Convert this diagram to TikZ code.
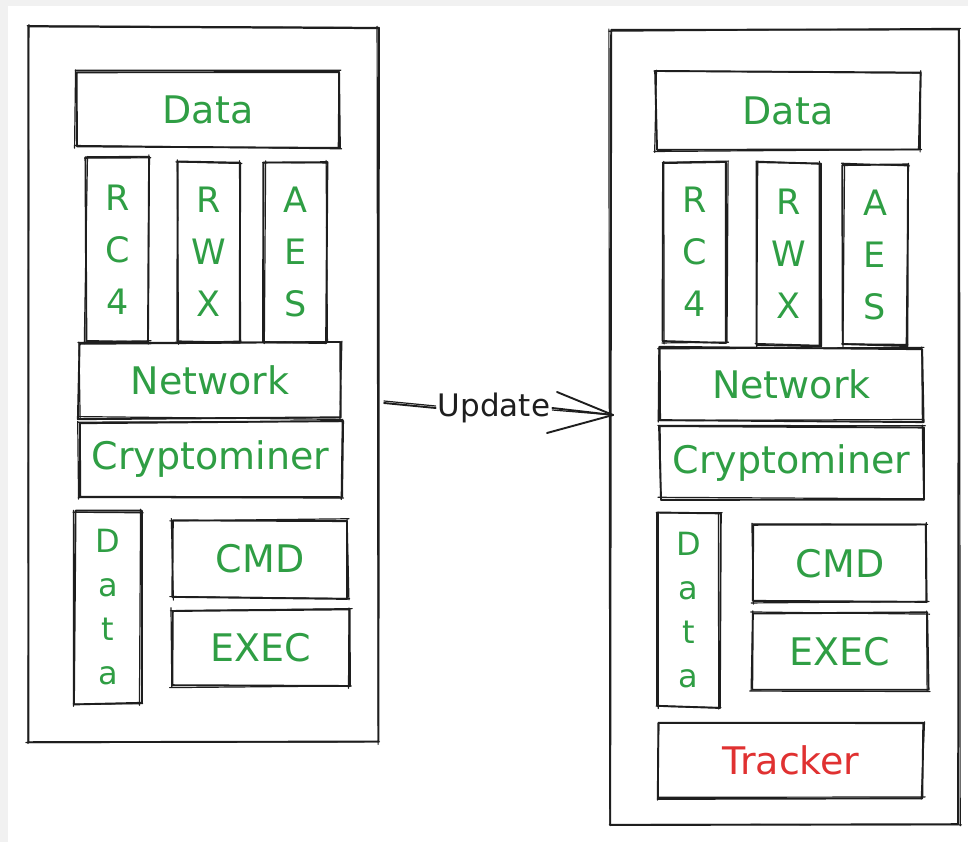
\documentclass[tikz,border=0pt]{standalone}
\usepackage{fontspec}
\setmainfont{DejaVu Sans}
\definecolor{ink}{HTML}{1E1E1E}
\definecolor{leafgreen}{HTML}{2F9E44}
\definecolor{alertred}{HTML}{E03131}
\definecolor{canvasedge}{HTML}{F1F1F1}

\tikzset{
  stroke/.style={draw=ink, line width=1.9pt, line cap=round, line join=round},
  restroke/.style={draw=ink, line width=1.2pt, line cap=round, line join=round},
  panel/.style={inner sep=0pt, outer sep=0pt, text=leafgreen,
    font=\fontsize{38}{40}\selectfont},
  stack/.style={align=center, font=\fontsize{35}{52}\selectfont},
  stacktight/.style={align=center, font=\fontsize{32}{44}\selectfont},
  warn/.style={text=alertred},
  updlbl/.style={inner sep=2pt, text=ink, font=\fontsize{31}{33}\selectfont},
}

% hand-drawn rectangle along the border of a node: two jittered passes
\newcommand\roughrect[1]{%
  \draw[stroke]
    ([shift={(rand*1.2,rand*1.2)}]#1.north west) --
    ([shift={(rand*1.2,rand*1.2)}]#1.north east) --
    ([shift={(rand*1.2,rand*1.2)}]#1.south east) --
    ([shift={(rand*1.2,rand*1.2)}]#1.south west) -- cycle;
  \draw[restroke]
    ([shift={(-1.5+rand,rand*1.8)}]#1.north west) --
    ([shift={(1.5+rand,rand*1.8)}]#1.north east)
    ([shift={(rand*1.8,-1.5+rand)}]#1.north east) --
    ([shift={(rand*1.8,1.5+rand)}]#1.south east)
    ([shift={(1.5+rand,rand*1.8)}]#1.south east) --
    ([shift={(-1.5+rand,rand*1.8)}]#1.south west)
    ([shift={(rand*1.8,1.5+rand)}]#1.south west) --
    ([shift={(rand*1.8,-1.5+rand)}]#1.north west);
}

% \sketchpanel[style]{name}{x1}{y1}{x2}{y2}{text}
\newcommand\sketchpanel[7][]{%
  \node[panel,#1,
        minimum width={(#5-#3)*1pt}, minimum height={(#6-#4)*1pt}]
    (#2) at ({(#3+#5)/2},{(#4+#6)/2}) {#7};
  \roughrect{#2}%
}

\begin{document}
\begin{tikzpicture}[x=1pt,y=-1pt]
  \pgfmathsetseed{7}
  \useasboundingbox (0,0) rectangle (968,842);
  \fill[white] (0,0) rectangle (968,842);
  \fill[canvasedge] (0,0) rectangle (968,6);
  \fill[canvasedge] (0,0) rectangle (8,842);

  % ---- original build ----
  \sketchpanel{lbox}{28}{27}{378}{742}{}
  \sketchpanel{ldata}{76}{72}{340}{147}{Data}
  \sketchpanel[stack]{lrc4}{86}{157}{149}{342}{R\\C\\4}
  \sketchpanel[stack]{lrwx}{177}{162}{240}{342}{R\\W\\X}
  \sketchpanel[stack]{laes}{264}{162}{327}{342}{A\\E\\S}
  \sketchpanel{lnet}{79}{343}{341}{418}{Network}
  \sketchpanel{lcrypto}{79}{422}{342}{497}{Cryptominer}
  \sketchpanel[stacktight]{ldatav}{75}{511}{141}{704}{D\\a\\t\\a}
  \sketchpanel{lcmd}{172}{520}{348}{598}{CMD}
  \sketchpanel{lexec}{172}{610}{350}{686}{EXEC}

  % ---- updated build ----
  \sketchpanel{rbox}{610}{30}{959}{824}{}
  \sketchpanel{rdata}{656}{72}{920}{150}{Data}
  \sketchpanel[stack]{rrc4}{663}{162}{727}{342}{R\\C\\4}
  \sketchpanel[stack]{rrwx}{757}{163}{820}{345}{R\\W\\X}
  \sketchpanel[stack]{raes}{843}{165}{907}{345}{A\\E\\S}
  \sketchpanel{rnet}{660}{348}{923}{421}{Network}
  \sketchpanel{rcrypto}{660}{427}{923}{499}{Cryptominer}
  \sketchpanel[stacktight]{rdatav}{657}{513}{720}{707}{D\\a\\t\\a}
  \sketchpanel{rcmd}{753}{525}{927}{602}{CMD}
  \sketchpanel{rexec}{752}{613}{928}{690}{EXEC}
  \sketchpanel[warn]{rtrack}{659}{723}{923}{798}{Tracker}

  % ---- update arrow ----
  \coordinate (tail) at (384,403);
  \coordinate (tip) at (613,415);
  \node[updlbl] (upd) at (494,408) {Update};
  \draw[stroke] (tail) -- (upd.west);
  \draw[restroke] ([yshift=2]tail) -- ([yshift=2]upd.west);
  \draw[stroke] (upd.east) -- (tip);
  \draw[restroke] ([yshift=-2]upd.east) -- (tip);
  \draw[stroke] (tip) -- ++(-56,-23);
  \draw[stroke] (tip) -- ++(-66,18);
\end{tikzpicture}
\end{document}
